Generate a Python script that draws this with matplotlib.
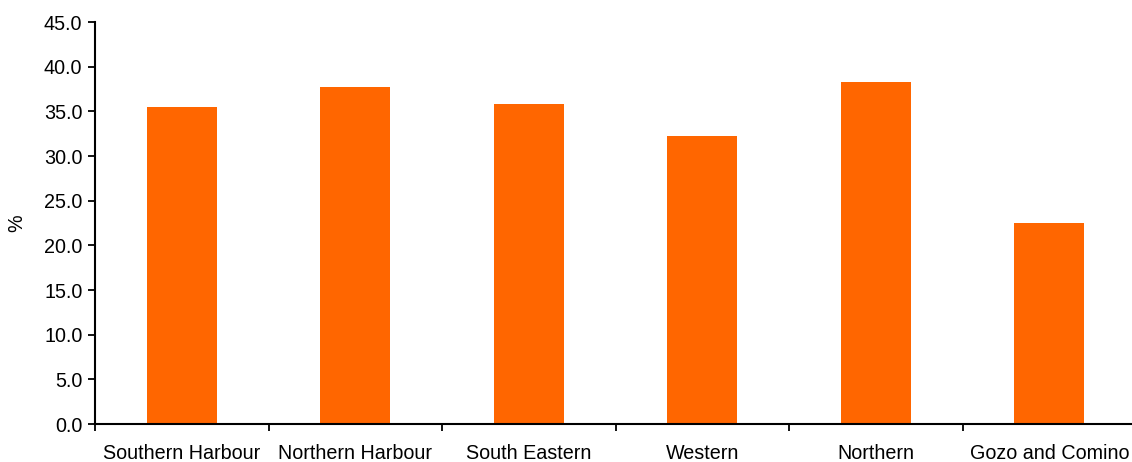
import matplotlib
matplotlib.use("Agg")
import matplotlib.pyplot as plt
import numpy as np

categories = ["Southern Harbour", "Northern Harbour", "South Eastern", "Western", "Northern", "Gozo and Comino"]
values = [35.5, 37.7, 35.8, 32.2, 38.3, 22.5]
yticks = [0, 5, 10, 15, 20, 25, 30, 35, 40, 45]

plt.rcParams['font.family'] = ['Liberation Sans', 'DejaVu Sans']
fs = 14.2

fig = plt.figure(figsize=(11.32, 4.62), dpi=100)
ax = fig.add_axes([95/1132, 1 - 424/462, 1 - 95/1132 + 4/1132, (424 - 22)/462])

x = np.arange(len(categories))
ax.bar(x, values, width=0.405, color='#FF6600', zorder=2)

ax.set_xlim(-0.5, len(categories) - 0.5)
ax.set_ylim(0, 45)
ax.set_yticks(yticks)
ax.set_yticklabels([f"{v:.1f}" for v in yticks], fontsize=fs)
ax.set_xticks(x - 0.5)
ax.set_xticklabels([])
ax.set_xticks(x, minor=True)
ax.set_xticklabels(categories, minor=True, fontsize=fs)
ax.tick_params(axis='x', which='minor', length=0, pad=14.5)
ax.tick_params(axis='x', which='major', length=5, width=1.3, direction='out')
ax.tick_params(axis='y', length=5, width=1.3, direction='out', pad=4)

for s in ['top', 'right']:
    ax.spines[s].set_visible(False)
for s in ['left', 'bottom']:
    ax.spines[s].set_linewidth(1.5)
ax.spines['bottom'].set_clip_on(False)

ax.set_ylabel('%', fontsize=fs)
ax.yaxis.set_label_coords(-0.066, 0.5)

fig.savefig('out.png', dpi=100)
